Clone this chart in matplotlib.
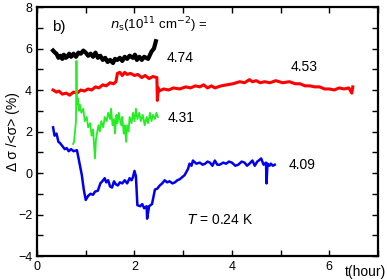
import numpy as np
import matplotlib.pyplot as plt
from matplotlib.ticker import MultipleLocator

plt.rcParams['font.family'] = ['Liberation Sans', 'DejaVu Sans']

# n_s = 4.74 (black)
t_474 = [0.33, 0.37, 0.40, 0.44, 0.48, 0.52, 0.55, 0.59, 0.62, 0.66, 0.70, 0.75,
         0.80, 0.85, 0.90, 0.95, 1.00, 1.05, 1.10, 1.15, 1.20, 1.25, 1.30, 1.35,
         1.40, 1.45, 1.50, 1.56, 1.60, 1.65, 1.70, 1.75, 1.80, 1.85, 1.90, 1.97,
         2.01, 2.05, 2.10, 2.15, 2.20, 2.28, 2.32, 2.35, 2.40, 2.44]
v_474 = [5.9, 5.8, 5.75, 5.55, 5.65, 5.5, 5.7, 5.55, 5.6, 5.75, 5.6, 5.75,
         5.6, 5.8, 5.75, 5.9, 5.8, 5.65, 5.75, 5.6, 5.8, 5.55, 5.65, 5.45,
         5.55, 5.35, 5.45, 5.3, 5.5, 5.45, 5.55, 5.4, 5.6, 5.5, 5.65, 5.55,
         5.7, 5.45, 5.6, 5.45, 5.6, 5.5, 5.7, 5.85, 6.0, 6.35]

# n_s = 4.53 (red)
t_453 = [0.33, 0.40, 0.45, 0.52, 0.60, 0.67, 0.75, 0.82, 0.90, 0.97, 1.05, 1.12,
         1.20, 1.27, 1.35, 1.42, 1.50, 1.57, 1.62, 1.65, 1.70, 1.75, 1.80, 1.85,
         1.92, 2.00, 2.07, 2.15, 2.22, 2.30, 2.38, 2.46, 2.47, 2.49, 2.50, 2.60,
         2.70, 2.80, 2.93, 3.05, 3.15, 3.25, 3.34, 3.42, 3.50, 3.58, 3.65, 3.78,
         3.90, 4.02, 4.16, 4.26, 4.36, 4.42, 4.50, 4.58, 4.67, 4.78, 4.90, 5.04,
         5.18, 5.30, 5.40, 5.50, 5.60, 5.70, 5.80, 5.90, 6.00, 6.10, 6.20, 6.30,
         6.40, 6.46, 6.48]
v_453 = [4.0, 3.9, 3.95, 3.8, 3.85, 3.75, 3.9, 3.85, 4.0, 3.95, 4.05, 4.0,
         4.15, 4.1, 4.25, 4.2, 4.35, 4.3, 4.4, 4.8, 4.85, 4.7, 4.85, 4.75,
         4.8, 4.7, 4.75, 4.6, 4.7, 4.55, 4.65, 4.6, 3.5, 4.1, 3.95, 4.05,
         4.0, 4.1, 4.05, 4.15, 4.1, 4.2, 4.15, 4.25, 4.1, 4.2, 4.1, 4.2,
         4.25, 4.3, 4.4, 4.35, 4.5, 4.4, 4.45, 4.35, 4.4, 4.35, 4.45, 4.35,
         4.4, 4.3, 4.3, 4.2, 4.2, 4.15, 4.15, 4.05, 4.05, 4.0, 4.1, 4.05,
         4.1, 3.85, 4.15]

# n_s = 4.31 (green)
t_431 = [0.74, 0.76, 0.80, 0.81, 0.82, 0.84, 0.86, 0.88, 0.91, 0.95, 0.98, 1.02,
         1.05, 1.09, 1.12, 1.15, 1.19, 1.21, 1.23, 1.26, 1.29, 1.32, 1.36, 1.39,
         1.43, 1.46, 1.50, 1.52, 1.55, 1.58, 1.60, 1.63, 1.65, 1.68, 1.70, 1.73,
         1.75, 1.78, 1.80, 1.83, 1.85, 1.88, 1.90, 1.94, 1.97, 2.00, 2.03, 2.06,
         2.10, 2.13, 2.17, 2.21, 2.25, 2.28, 2.32, 2.35, 2.38, 2.42, 2.45, 2.48]
v_431 = [1.4, 1.5, 2.5, 5.4, 3.3, 3.6, 3.0, 3.3, 2.9, 3.1, 2.5, 2.7,
         2.2, 2.4, 1.8, 2.1, 0.7, 1.6, 1.9, 2.3, 2.0, 2.5, 2.2, 2.7,
         2.5, 2.9, 2.6, 3.1, 2.3, 2.6, 1.9, 2.8, 2.4, 2.9, 2.6, 2.3,
         2.7, 1.9, 2.3, 1.5, 2.3, 2.0, 2.7, 2.4, 2.9, 2.5, 3.1, 2.6,
         2.9, 2.5, 2.8, 2.3, 2.7, 2.4, 2.9, 2.5, 2.8, 2.6, 2.9, 2.7]

# n_s = 4.09 (blue)
t_409 = [0.33, 0.36, 0.40, 0.44, 0.47, 0.52, 0.57, 0.61, 0.65, 0.70, 0.75, 0.82,
         0.87, 0.92, 0.96, 1.00, 1.05, 1.10, 1.15, 1.19, 1.25, 1.30, 1.34, 1.39,
         1.42, 1.46, 1.50, 1.54, 1.58, 1.62, 1.66, 1.70, 1.75, 1.80, 1.85, 1.90,
         1.94, 1.97, 2.00, 2.03, 2.06, 2.12, 2.16, 2.20, 2.25, 2.26, 2.30, 2.36,
         2.42, 2.47, 2.52, 2.57, 2.62, 2.67, 2.72, 2.78, 2.83, 2.88, 2.93, 2.98,
         3.03, 3.10, 3.13, 3.17, 3.20, 3.27, 3.34, 3.40, 3.45, 3.50, 3.55, 3.60,
         3.65, 3.70, 3.75, 3.82, 3.88, 3.94, 4.00, 4.07, 4.13, 4.20, 4.26, 4.31,
         4.36, 4.42, 4.47, 4.52, 4.55, 4.60, 4.65, 4.70, 4.71, 4.73, 4.77, 4.80,
         4.84, 4.88]
v_409 = [2.2, 1.8, 1.9, 1.5, 1.45, 1.3, 1.15, 1.2, 1.05, 1.15, 1.05, 1.1,
         0.5, -0.1, -0.8, -1.3, -1.1, -1.0, -1.05, -0.9, -0.85, -0.5, -0.4, -0.25,
         -0.45, -0.35, -0.65, -0.7, -0.4, -0.55, -0.6, -0.45, -0.5, -0.35, -0.5, -0.25,
         -0.35, -0.2, 0.1, -0.15, -1.55, -1.6, -1.5, -1.7, -1.6, -2.2, -1.6, -1.5,
         -0.8, -0.75, -0.6, -0.5, -0.35, -0.45, -0.4, -0.5, -0.45, -0.35, -0.3, -0.2,
         -0.1, 0.2, 0.45, 0.35, 0.6, 0.45, 0.5, 0.4, 0.45, 0.55, 0.5, 0.35,
         0.6, 0.4, 0.4, 0.5, 0.45, 0.55, 0.5, 0.35, 0.4, 0.55, 0.5, 0.35,
         0.45, 0.6, 0.35, 0.55, 0.6, 0.7, 0.4, 0.5, -0.5, 0.45, 0.35, 0.45,
         0.35, 0.4]

fig = plt.figure(figsize=(3.87, 2.80), dpi=100)
ax = fig.add_axes([0.0956, 0.0857, 0.8814, 0.8893])

ax.plot(t_474, v_474, color='black', lw=3.0)
ax.plot(t_453, v_453, color='#ff0000', lw=2.2)
ax.plot(t_431, v_431, color='#22ee22', lw=1.3)
ax.plot(t_409, v_409, color='#0000ee', lw=1.8)

ax.set_xlim(0, 7)
ax.set_ylim(-4, 8)
ax.xaxis.set_major_locator(MultipleLocator(2))
ax.xaxis.set_minor_locator(MultipleLocator(1))
ax.yaxis.set_major_locator(MultipleLocator(2))
ax.yaxis.set_minor_locator(MultipleLocator(1))
ax.tick_params(which='both', direction='in', top=True, right=True, labelsize=9, width=1)
ax.tick_params(which='major', length=4)
ax.tick_params(which='minor', length=4)
for s in ax.spines.values():
    s.set_linewidth(1.6)

ax.set_ylabel('Δ σ /<σ> (%)', fontsize=10)
ax.yaxis.set_label_coords(-0.05, 0.5)
ax.text(1.023, -0.035, 't(hour)', transform=ax.transAxes, fontsize=10, ha='right', va='top')

ax.text(0.3, 7.05, 'b)', fontsize=11, va='center')
ax.text(1.5, 7.1, r'$n_{\rm s}$(10$^{11}$ cm$^{-2}$) =', fontsize=9.5, va='center')
ax.text(2.94, 5.54, '4.74', fontsize=10, ha='center', va='center')
ax.text(5.48, 5.1, '4.53', fontsize=10, ha='center', va='center')
ax.text(2.96, 2.65, '4.31', fontsize=10, ha='center', va='center')
ax.text(5.43, 0.39, '4.09', fontsize=10, ha='center', va='center')
ax.text(3.75, -2.27, r'$T$ = 0.24 K', fontsize=10, ha='center', va='center')

fig.savefig('out.png', dpi=100)
